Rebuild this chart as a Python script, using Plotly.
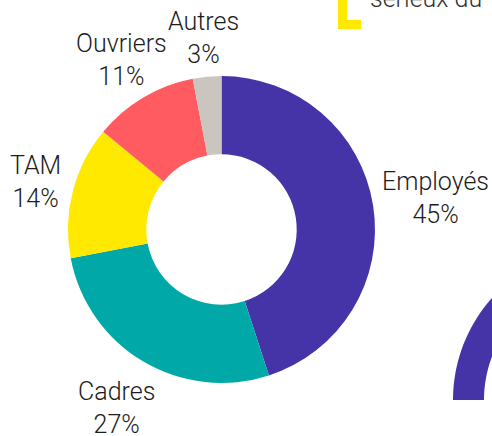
import numpy as np
import plotly.graph_objects as go

W, H = 492, 436

categories = ["Employés", "Cadres", "TAM", "Ouvriers", "Autres"]
values = [45, 27, 14, 11, 3]
colors = ["#4533a8", "#00a9a7", "#ffe900", "#ff5b60", "#cbc5c0"]

# label positions in pixels (centre of label block)
label_pos = {
    "Employés": (435, 198),
    "Cadres": (116, 408),
    "TAM": (35, 182),
    "Ouvriers": (121, 60),
    "Autres": (203, 38),
}

FONT = "Roboto, 'DejaVu Sans Condensed', sans-serif"

def px(x):
    return x / W

def py(y):
    return 1 - y / H

cx, cy, R = 221.5, 229.5, 153.5

fig = go.Figure()
fig.add_trace(go.Pie(
    labels=categories,
    values=values,
    marker=dict(colors=colors, line=dict(width=0)),
    hole=0.49,
    sort=False,
    direction="clockwise",
    rotation=0,
    textinfo="none",
    hoverinfo="label+percent",
    showlegend=False,
    domain=dict(x=[px(cx - R), px(cx + R)], y=[py(cy + R), py(cy - R)]),
))

annotations = []
for c, v in zip(categories, values):
    x, y = label_pos[c]
    annotations.append(dict(
        x=px(x), y=py(y), xref="paper", yref="paper",
        text=f"{c}<br>{v}%", showarrow=False,
        font=dict(family=FONT, size=25, color="#1c1c1c", weight=350),
        align="center", xanchor="center", yanchor="middle",
    ))

# partial text from the surrounding infographic (cut at the top edge)
annotations.append(dict(
    x=px(368), y=py(15), xref="paper", yref="paper",
    text="sérieux du", showarrow=False, xanchor="left", yanchor="bottom",
    font=dict(family=FONT, size=25, color="#333333", weight=350),
))

shapes = [
    # yellow corner bracket
    dict(type="rect", xref="paper", yref="paper",
         x0=px(338), x1=px(347), y0=py(29), y1=py(-5),
         fillcolor="#ffe900", line=dict(width=0)),
    dict(type="rect", xref="paper", yref="paper",
         x0=px(338), x1=px(361), y0=py(29), y1=py(20),
         fillcolor="#ffe900", line=dict(width=0)),
]

# partial purple ring of a neighbouring chart
ocx, ocy, Ro, Ri = 606, 400, 153, 122
t = np.linspace(np.pi, np.pi * 0.62, 40)
outer = [(ocx + Ro * np.cos(a), ocy - Ro * np.sin(a)) for a in t]
inner = [(ocx + Ri * np.cos(a), ocy - Ri * np.sin(a)) for a in t[::-1]]
pts = outer + inner
path = "M " + " L ".join(f"{px(x):.5f},{py(y):.5f}" for x, y in pts) + " Z"
shapes.append(dict(type="path", xref="paper", yref="paper", path=path,
                   fillcolor="#4533a8", line=dict(width=0)))

fig.update_layout(
    width=W, height=H,
    margin=dict(l=0, r=0, t=0, b=0),
    paper_bgcolor="white", plot_bgcolor="white",
    annotations=annotations, shapes=shapes,
)

fig.write_html(
    "out.html",
    config={"displayModeBar": False},
    post_script="document.body.style.margin='0';document.body.style.overflow='hidden';",
)
